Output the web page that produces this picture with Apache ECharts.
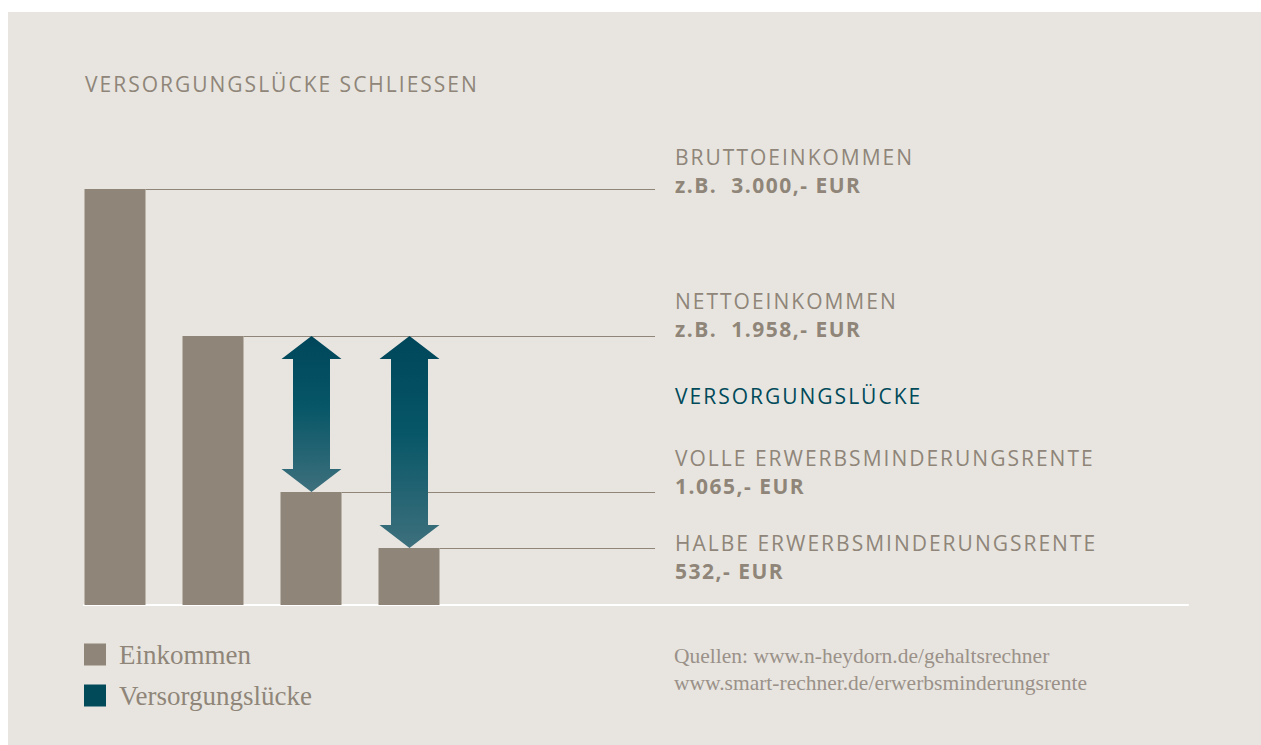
<!DOCTYPE html>
<html>
<head>
<meta charset="utf-8">
<script src="https://cdn.jsdelivr.net/npm/echarts@6/dist/echarts.min.js"></script>
<style>
  html, body { margin: 0; padding: 0; background: #ffffff; }
  #chart { position: absolute; left: 8px; top: 12px; width: 1253px; height: 733px; }
  /* die Vorlage nutzt eine breit laufende Sans */
  #chart text[style*="Open Sans"] { letter-spacing: 2px; }
  #chart text[style*="bold"] { letter-spacing: 1.5px; }
</style>
</head>
<body>
<div id="chart"></div>
<script>
// Daten (Zeichnung ist schematisch, Balkenhöhen)
var categories = ['Brutto', 'Netto', 'Volle EM-Rente', 'Halbe EM-Rente'];
var barHeights = [3000, 1940, 815, 411];
var gapFrom = 1;          // Nettoeinkommen
var gapTo = [2, 3];       // volle / halbe Erwerbsminderungsrente
var labelTitles = ['BRUTTOEINKOMMEN', 'NETTOEINKOMMEN', 'VOLLE ERWERBSMINDERUNGSRENTE', 'HALBE ERWERBSMINDERUNGSRENTE'];
var labelAmounts = ['z.B.  3.000,- EUR', 'z.B.  1.958,- EUR', '1.065,- EUR', '532,- EUR'];
var sources = ['Quellen: www.n-heydorn.de/gehaltsrechner', 'www.smart-rechner.de/erwerbsminderungsrente'];

var grau = '#8f8579';
var petrol = '#004a5a';
var sans = '"Open Sans", "Noto Sans", sans-serif';
var serif = '"Liberation Serif", "DejaVu Serif", serif';

var myChart = echarts.init(document.getElementById('chart'), null, { renderer: 'svg' });

// Pfeile: von Netto-Niveau bis zur jeweiligen Rente
var arrowData = gapTo.map(function (i) {
    return [i, barHeights[gapFrom], barHeights[i]];
});
// Linien rechts von jedem Balken
var lineData = barHeights.map(function (v, i) { return [i, v]; });

var LINE_END_X = 647;   // chart-relative pixel
var texts = [];
var titleY = [134, 278, 435, 520];
var amountY = [162, 306, 463, 548];
labelTitles.forEach(function (t, i) {
    texts.push({ type: 'text', left: 667, top: titleY[i],
        style: { text: t, font: '21px ' + sans, fill: grau } });
    texts.push({ type: 'text', left: 667, top: amountY[i],
        style: { text: labelAmounts[i], font: 'bold 21px ' + sans, fill: grau } });
});
texts.push({ type: 'text', left: 667, top: 373,
    style: { text: 'VERSORGUNGSLÜCKE', font: '21px ' + sans, fill: petrol } });
texts.push({ type: 'text', left: 666, top: 633,
    style: { text: sources[0], font: '21.5px ' + serif, fill: '#9a9189' } });
texts.push({ type: 'text', left: 666, top: 660,
    style: { text: sources[1], font: '21.5px ' + serif, fill: '#9a9189' } });

var option = {
    backgroundColor: '#e8e5e0',
    animation: false,
    title: {
        text: 'VERSORGUNGSLÜCKE SCHLIESSEN',
        left: 72,
        top: 56,
        textStyle: { fontFamily: sans, fontWeight: 'normal', fontSize: 21, color: grau }
    },
    legend: {
        orient: 'vertical',
        left: 71,
        top: 624,
        itemWidth: 22,
        itemHeight: 22,
        itemGap: 14,
        icon: 'rect',
        textStyle: { fontFamily: serif, fontSize: 27, lineHeight: 22, color: grau, padding: [3, 0, 0, 8] },
        data: [
            { name: 'Einkommen', itemStyle: { color: grau } },
            { name: 'Versorgungslücke', itemStyle: { color: petrol } }
        ]
    },
    graphic: texts,
    grid: [
        { left: 58, top: 177, width: 392, height: 416 },
        { left: 76, top: 177, width: 1104, height: 416 }
    ],
    xAxis: [{
        type: 'category',
        gridIndex: 0,
        data: categories,
        axisLine: { show: false },
        axisTick: { show: false },
        axisLabel: { show: false }
    }, {
        type: 'value',
        gridIndex: 1,
        axisLine: { show: true, lineStyle: { color: '#ffffff', width: 2 } },
        axisTick: { show: false },
        axisLabel: { show: false },
        splitLine: { show: false }
    }],
    yAxis: [{
        type: 'value',
        gridIndex: 0,
        min: 0,
        max: 3000,
        show: false
    }, {
        type: 'value',
        gridIndex: 1,
        show: false
    }],
    series: [{
        name: 'Einkommen',
        type: 'bar',
        barWidth: 61,
        itemStyle: { color: grau },
        data: barHeights,
        z: 2
    }, {
        name: 'Linien',
        type: 'custom',
        silent: true,
        data: lineData,
        renderItem: function (params, api) {
            var p = api.coord([api.value(0), api.value(1)]);
            var x0 = p[0] + 30.5;
            return {
                type: 'line',
                shape: { x1: x0, y1: p[1] + 0.5, x2: LINE_END_X, y2: p[1] + 0.5 },
                style: { stroke: grau, lineWidth: 1.2 }
            };
        },
        z: 1
    }, {
        name: 'Versorgungslücke',
        type: 'custom',
        data: arrowData,
        renderItem: function (params, api) {
            var top = api.coord([api.value(0), api.value(1)]);
            var bot = api.coord([api.value(0), api.value(2)]);
            var cx = top[0] + 0.5, w = 30, s = 18.5, h = 23;
            var y0 = top[1], y1 = bot[1];
            return {
                type: 'polygon',
                shape: { points: [
                    [cx, y0], [cx + w, y0 + h], [cx + s, y0 + h], [cx + s, y1 - h], [cx + w, y1 - h],
                    [cx, y1], [cx - w, y1 - h], [cx - s, y1 - h], [cx - s, y0 + h], [cx - w, y0 + h]
                ] },
                style: {
                    fill: new echarts.graphic.LinearGradient(0, 0, 0, 1, [
                        { offset: 0, color: '#00465a' },
                        { offset: 0.45, color: '#065667' },
                        { offset: 1, color: '#3e707d' }
                    ])
                }
            };
        },
        z: 3
    }]
};

myChart.setOption(option);
</script>
</body>
</html>
